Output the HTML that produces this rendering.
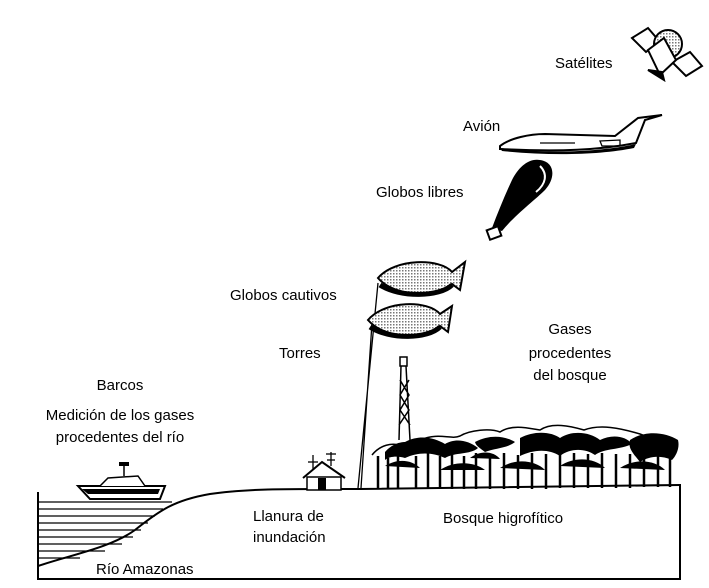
<!DOCTYPE html>
<html><head><meta charset="utf-8"><style>
html,body{margin:0;padding:0;background:#fff}
svg{display:block}
text{font-family:"Liberation Sans",sans-serif;font-size:15px;fill:#000}
</style></head><body>
<svg width="709" height="588" viewBox="0 0 709 588" xmlns="http://www.w3.org/2000/svg">
<defs>
<pattern id="dots" width="3" height="3" patternUnits="userSpaceOnUse"><rect width="3" height="3" fill="#fff"/><rect width="1.5" height="1.5" fill="#777"/></pattern>
</defs>
<!-- ground box -->
<path d="M38 492 L38 579 L680 579 L680 484" fill="none" stroke="#000" stroke-width="2"/>
<!-- water lines -->
<g stroke="#000" stroke-width="1.3">
<line x1="38" y1="502" x2="172" y2="502"/><line x1="38" y1="509" x2="163" y2="509"/>
<line x1="38" y1="516" x2="155" y2="516"/><line x1="38" y1="523" x2="148" y2="523"/>
<line x1="38" y1="530" x2="141" y2="530"/><line x1="38" y1="537" x2="133" y2="537"/>
<line x1="38" y1="544" x2="122" y2="544"/><line x1="38" y1="551" x2="105" y2="551"/>
<line x1="38" y1="558" x2="80" y2="558"/>
</g>
<!-- land profile -->
<path d="M38 566 C70 555 110 548 135 530 C160 510 175 500 210 494 C250 488 300 489 360 489 L680 485" fill="none" stroke="#000" stroke-width="2"/>
<!-- boat -->
<path d="M78 486 L165 486 L160 499 L90 499 Z" fill="#fff" stroke="#000" stroke-width="2"/>
<path d="M82 489 L160 489 L158 494 L88 494 Z" fill="#000"/>
<path d="M100 486 L108 478 L138 476 L145 486" fill="#fff" stroke="#000" stroke-width="1.5"/>
<line x1="124" y1="476" x2="124" y2="466" stroke="#000" stroke-width="1.5"/>
<rect x="119" y="462" width="10" height="4" fill="#000"/>
<!-- house -->
<path d="M303 478 L322 462 L345 478" fill="none" stroke="#000" stroke-width="2"/>
<rect x="307" y="477" width="34" height="13" fill="#fff" stroke="#000" stroke-width="1.5"/>
<rect x="318" y="478" width="8" height="12" fill="#000"/>
<g stroke="#000" stroke-width="1.3"><line x1="313" y1="455" x2="313" y2="470"/><line x1="308" y1="462" x2="318" y2="462"/><line x1="331" y1="452" x2="331" y2="466"/><line x1="326" y1="454" x2="336" y2="454"/><line x1="327" y1="460" x2="335" y2="460"/></g>
<!-- tethers -->
<path d="M378 283 L358 488 M372 323 L361 488" stroke="#000" stroke-width="1.3" fill="none"/>
<!-- tower -->
<rect x="400" y="357" width="7" height="9" fill="#fff" stroke="#000" stroke-width="1.5"/>
<path d="M401 366 L399 440 M406 366 L410 440 M400 380 L409 395 L400 410 L410 425 M409 380 L400 395 L409 410 L399 425" stroke="#000" stroke-width="1.5" fill="none"/>
<!-- forest -->
<path d="M372 455 C380 445 392 442 402 446 L420 440 C440 432 450 440 460 436 C470 430 490 428 500 432 C512 424 528 428 540 430 C552 422 570 426 584 430 C600 424 620 428 640 434 C655 440 668 444 676 448" fill="none" stroke="#000" stroke-width="1.5"/>
<g fill="#000">
<path d="M385 452 C392 444 400 442 405 442 C420 434 435 438 445 444 C455 438 468 440 478 448 C470 455 455 452 445 458 C432 452 418 452 405 458 C398 456 390 456 385 460 Z"/>
<path d="M520 438 C535 430 552 432 560 438 C572 430 590 432 600 440 C612 434 626 436 632 444 C620 450 605 448 595 455 C585 448 570 448 560 456 C548 448 532 450 520 456 Z"/>
<path d="M630 440 C645 430 665 432 678 440 C680 448 676 456 672 460 C660 455 650 456 640 462 C632 452 628 448 630 440 Z"/>
<path d="M475 442 C490 434 505 436 515 442 C508 448 495 448 485 452 C480 448 476 446 475 442 Z"/>
<path d="M440 470 C455 460 475 462 485 470 Z M500 468 C515 458 535 460 545 470 Z M560 466 C575 456 595 458 605 468 Z M620 468 C635 458 655 460 665 470 Z M385 466 C398 458 412 460 420 468 Z M470 458 C480 450 494 451 500 459 Z"/>
</g>
<g stroke="#000" stroke-width="2.5">
<line x1="378" y1="456" x2="378" y2="489"/><line x1="388" y1="458" x2="388" y2="489"/><line x1="398" y1="456" x2="398" y2="489"/>
<line x1="416" y1="456" x2="416" y2="489"/><line x1="428" y1="453" x2="428" y2="489"/><line x1="440" y1="456" x2="440" y2="489"/>
<line x1="452" y1="454" x2="452" y2="489"/><line x1="464" y1="456" x2="464" y2="489"/><line x1="476" y1="453" x2="476" y2="489"/>
<line x1="490" y1="456" x2="490" y2="489"/><line x1="504" y1="453" x2="504" y2="489"/><line x1="518" y1="455" x2="518" y2="489"/>
<line x1="532" y1="453" x2="532" y2="489"/><line x1="546" y1="454" x2="546" y2="489"/><line x1="560" y1="453" x2="560" y2="488"/>
<line x1="574" y1="453" x2="574" y2="488"/><line x1="588" y1="454" x2="588" y2="488"/><line x1="602" y1="453" x2="602" y2="488"/>
<line x1="616" y1="454" x2="616" y2="488"/><line x1="630" y1="454" x2="630" y2="488"/><line x1="644" y1="456" x2="644" y2="487"/>
<line x1="658" y1="454" x2="658" y2="487"/><line x1="670" y1="454" x2="670" y2="487"/>
</g>
<!-- tethered balloons -->
<g stroke="#000" stroke-width="2">
<path d="M378 278 C395 258 440 258 452 272 L465 262 L460 290 L452 284 C440 298 395 298 378 278 Z" fill="url(#dots)"/>
<path d="M380 285 C400 298 440 297 452 285" fill="none" stroke-width="5"/>
<path d="M368 320 C385 300 428 300 440 314 L452 306 L448 332 L440 326 C428 340 385 340 368 320 Z" fill="url(#dots)"/>
<path d="M370 327 C390 340 428 339 440 327" fill="none" stroke-width="5"/>
</g>
<!-- free balloon -->
<path d="M492 228 L502 231 C515 215 535 200 545 190 C556 178 555 162 540 160 C528 158 518 168 512 180 C505 195 498 212 492 228 Z" fill="#000"/>
<path d="M540 166 C548 174 546 184 536 192" stroke="#fff" stroke-width="2" fill="none"/>
<rect x="488" y="228" width="12" height="10" fill="#fff" stroke="#000" stroke-width="2" transform="rotate(-20 494 233)"/>
<!-- plane -->
<path d="M500 146 C510 138 530 134 545 134 L615 136 L638 118 L662 115 L645 120 L636 143 C600 150 560 152 500 149 Z" fill="#fff" stroke="#000" stroke-width="2"/>
<path d="M500 148 C550 154 600 152 636 144 L634 148 C600 155 550 156 502 151 Z" fill="#000"/>
<path d="M540 143 L575 143" stroke="#000" stroke-width="1.3"/>
<path d="M600 141 L620 140 L620 146 L602 146 Z" fill="none" stroke="#000" stroke-width="1.3"/>
<!-- satellite -->
<g stroke="#000" stroke-width="2">
<path d="M632 38 L648 28 L660 42 L646 52 Z" fill="#fff"/>
<path d="M672 62 L690 52 L702 66 L686 76 Z" fill="#fff"/>
<circle cx="668" cy="44" r="14" fill="url(#dots)"/>
<path d="M648 50 L660 75 L676 60 L664 38 Z" fill="#fff"/>
<path d="M648 70 L664 80 L662 72 Z" fill="#000"/>
</g>
<!-- labels -->
<text x="555" y="68">Satélites</text>
<text x="463" y="131">Avión</text>
<text x="376" y="197">Globos libres</text>
<text x="230" y="300">Globos cautivos</text>
<text x="279" y="358">Torres</text>
<text x="570" y="334" text-anchor="middle">Gases</text>
<text x="570" y="358" text-anchor="middle">procedentes</text>
<text x="570" y="380" text-anchor="middle">del bosque</text>
<text x="120" y="390" text-anchor="middle">Barcos</text>
<text x="120" y="420" text-anchor="middle">Medición de los gases</text>
<text x="120" y="442" text-anchor="middle">procedentes del río</text>
<text x="253" y="521">Llanura de</text>
<text x="253" y="542">inundación</text>
<text x="443" y="523">Bosque higrofítico</text>
<text x="96" y="574">Río Amazonas</text>
</svg>
</body></html>
